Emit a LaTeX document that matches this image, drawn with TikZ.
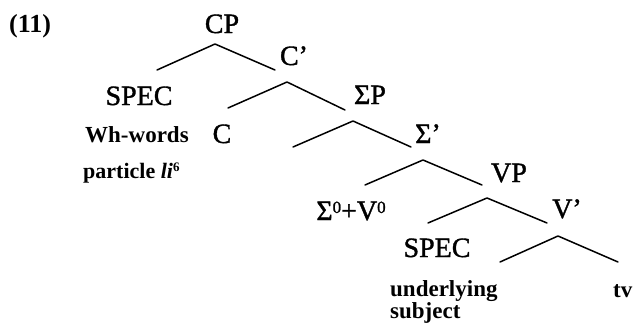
\documentclass[tikz,border=0pt]{standalone}
\usepackage{fontspec}
\setmainfont{Liberation Serif}
\newfontfamily\catfont{Liberation Serif}[FakeBold=1.3]
\begin{document}
\begin{tikzpicture}[x=1pt,y=-1pt,
  cat/.style={inner sep=0pt, anchor=base, font=\catfont\fontsize{28}{30}\selectfont},
  lex/.style={inner sep=0pt, anchor=base west, font=\fontsize{23}{25}\selectfont\bfseries},
  branch/.style={line width=1.5pt, line cap=round, line join=round}]
\useasboundingbox (0,0) rectangle (633,324);
% example number
\node[inner sep=0pt, anchor=base west, font=\fontsize{26}{28}\selectfont\bfseries] (ex) at (9,32) {(11)};
% category labels
\node[cat] (CP) at (222,33) {CP};
\node[cat] (Cbar) at (294,65) {C’};
\node[cat] (SPEC1) at (139,105) {SPEC};
\node[cat] (C) at (222,143) {C};
\node[cat] (SigP) at (370,104) {ΣP};
\node[cat] (Sigbar) at (428,143) {Σ’};
\node[cat] (VP) at (509,182) {VP};
\node[cat] (SigV) at (351,220) {Σ\raisebox{0.55ex}{\fontsize{17}{18}\selectfont 0}+V\raisebox{0.55ex}{\fontsize{17}{18}\selectfont 0}};
\node[cat] (Vbar) at (567,218) {V’};
\node[cat] (SPEC2) at (437,257) {SPEC};
% lexical material
\node[lex] (wh) at (85,142) {Wh-words};
\node[lex, font=\fontsize{22}{24}\selectfont\bfseries] (part) at (83,178) {particle \textit{li}\raisebox{0.6ex}{\fontsize{13}{14}\selectfont 6}};
\node[lex] (under) at (390,296) {underlying};
\node[lex] (subj) at (390,318) {subject};
\node[lex] (tv) at (613,297) {tv};
% branching points
\coordinate (cpA) at (215,44);  \coordinate (cpL) at (157,70);  \coordinate (cpR) at (275,70);
\coordinate (cbA) at (287,82);  \coordinate (cbL) at (228,108); \coordinate (cbR) at (345,110);
\coordinate (spA) at (353,121); \coordinate (spL) at (293,147); \coordinate (spR) at (411,147);
\coordinate (sbA) at (423,160); \coordinate (sbL) at (365,185); \coordinate (sbR) at (482,185);
\coordinate (vpA) at (487,198); \coordinate (vpL) at (428,223); \coordinate (vpR) at (547,223);
\coordinate (vbA) at (558,236); \coordinate (vbL) at (500,262); \coordinate (vbR) at (618,262);
\draw[branch] (cpL) -- (cpA) -- (cpR);
\draw[branch] (cbL) -- (cbA) -- (cbR);
\draw[branch] (spL) -- (spA) -- (spR);
\draw[branch] (sbL) -- (sbA) -- (sbR);
\draw[branch] (vpL) -- (vpA) -- (vpR);
\draw[branch] (vbL) -- (vbA) -- (vbR);
\end{tikzpicture}
\end{document}
